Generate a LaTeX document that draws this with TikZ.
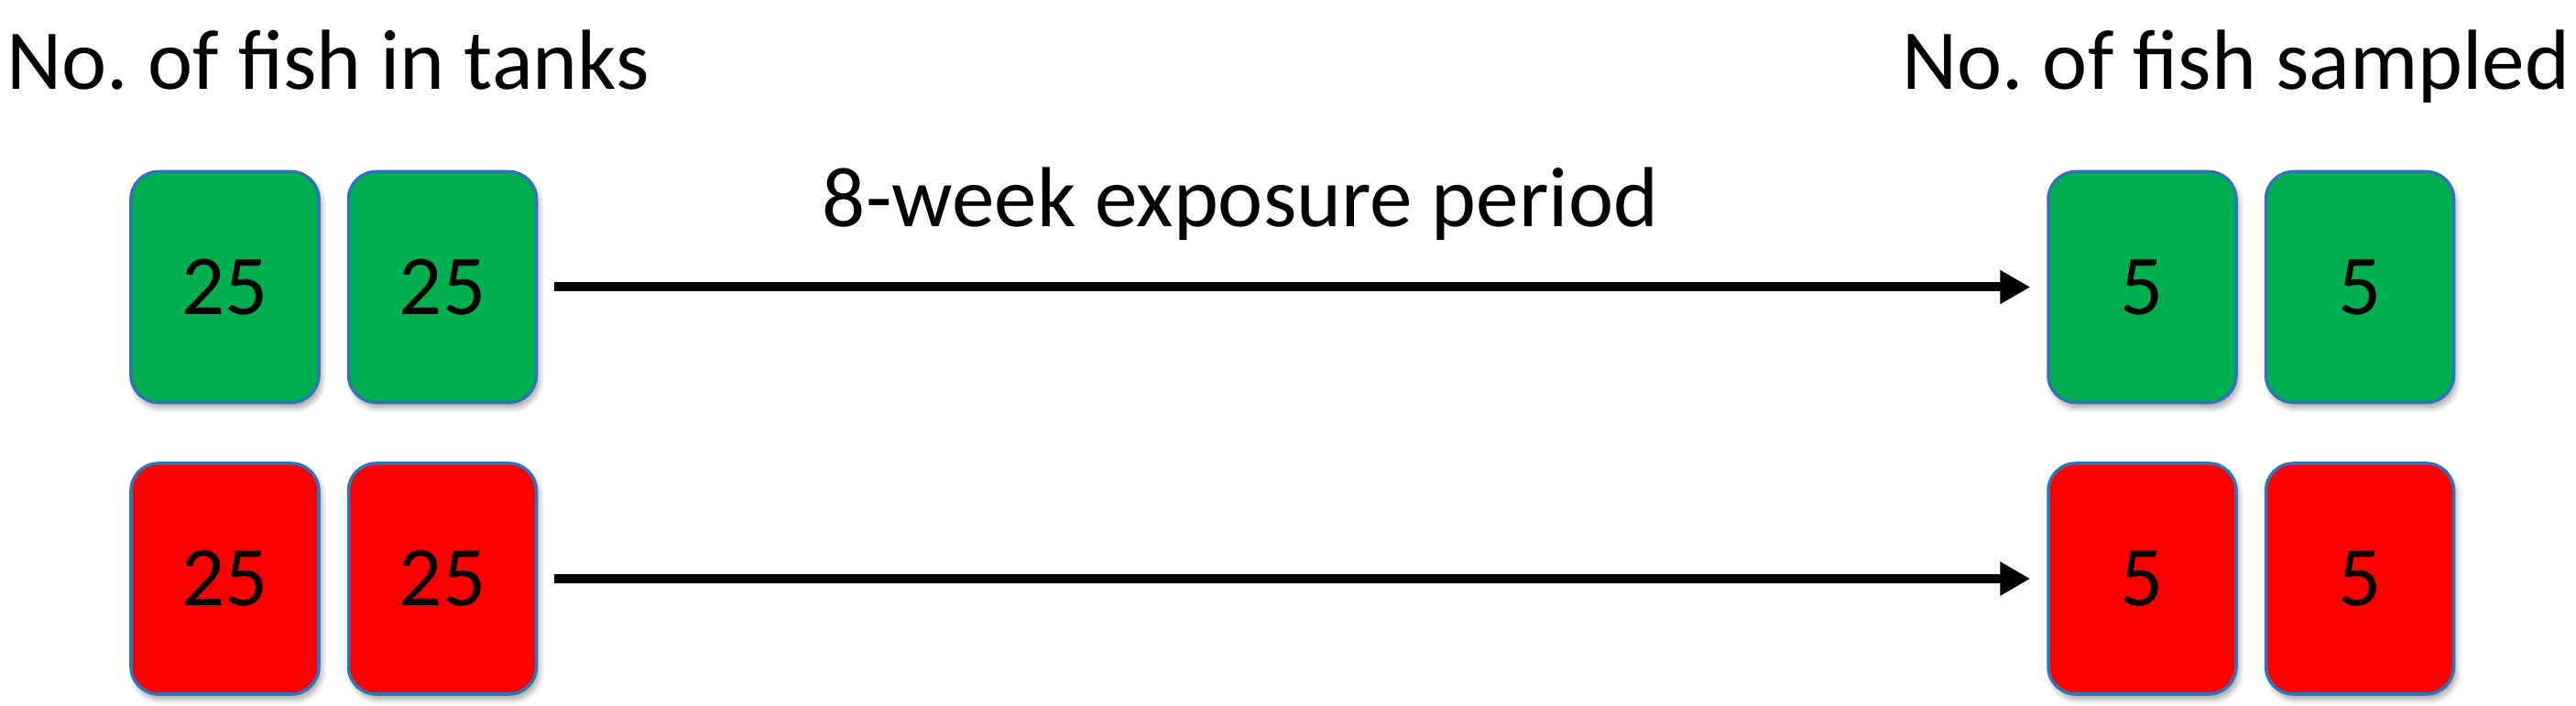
\documentclass[tikz,border=0pt]{standalone}
\usepackage{fontspec}
\setmainfont{Carlito}
\frenchspacing
\usetikzlibrary{arrows.meta,positioning,shadows.blur}
\definecolor{tankgreen}{RGB}{0,176,80}
\definecolor{tankred}{RGB}{255,0,0}
\definecolor{rim}{RGB}{46,117,182}
\tikzset{
>=Stealth,
node distance=0.29cm,
tank node/.style={draw=rim,line width=1pt,rounded corners=0.3cm,minimum width=2.05cm,minimum height=2.52cm,inner sep=0pt,
  blur shadow={shadow xshift=0.03cm,shadow yshift=-0.06cm,shadow blur radius=0.06cm,shadow blur steps=6,shadow opacity=35}},
green tank/.style={tank node,fill=tankgreen},
red tank/.style={tank node,fill=tankred},
caption/.style={inner sep=0pt},
exposure arrow/.style={-{Triangle[length=3.3mm,width=3.5mm]},line width=1mm,shorten >=0.18cm,shorten <=0.18cm}}

\begin{document}
\begin{tikzpicture}[font=\fontsize{26.5}{32}\selectfont]
      \useasboundingbox (0,0) rectangle (28.12,7.71);

      \node[green tank] (g1) at (2.455,4.575) {25};
      \node (g2) [green tank,right=of g1] {25};
      \node[green tank] (g3) at (23.385,4.575) {5};
      \node (g4) [green tank,right=of g3] {5};

      \node[red tank] (r1) at (2.455,1.39) {25};
      \node (r2) [red tank,right=of r1] {25};
      \node[red tank] (r3) at (23.385,1.39) {5};
      \node (r4) [red tank,right=of r3] {5};

      \node[caption,anchor=base west] (tanks) at (0.07,6.73) {No. of fish in tanks};
      \node[caption,anchor=base east] (sampled) at (28.06,6.73) {No. of fish sampled};
      \node[caption,anchor=base] (period) at (13.54,5.23) {8-week exposure period};

      \path[exposure arrow] (g2) edge (g3) (r2) edge (r3);
\end{tikzpicture}
\end{document}
